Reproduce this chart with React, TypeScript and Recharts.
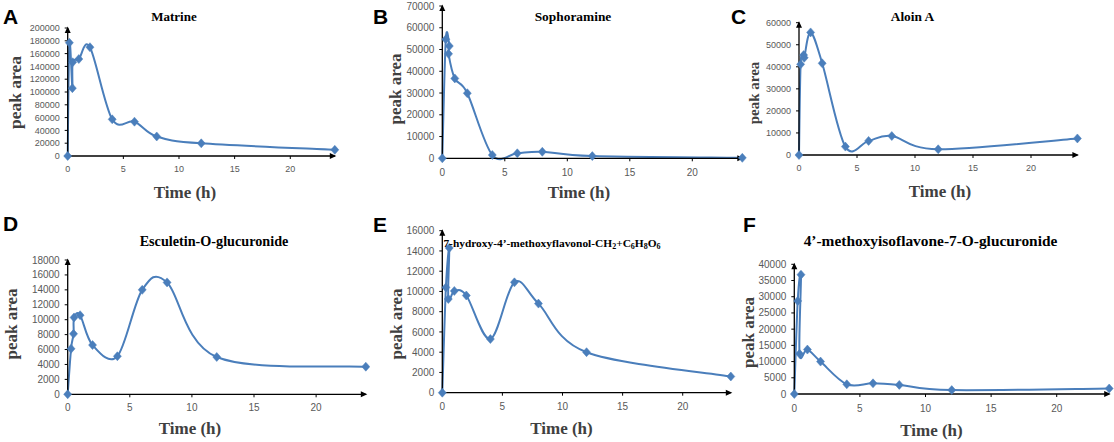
import React from 'react';
import { LineChart, Line, XAxis, YAxis } from 'recharts';

// ---- data ----
const panelLetters = ['A', 'B', 'C', 'D', 'E', 'F'];
const panelTitles = [
  'Matrine',
  'Sophoramine',
  'Aloin A',
  'Esculetin-O-glucuronide',
  '7-hydroxy-4’-methoxyflavonol-CH2+C6H8O6',
  '4’-methoxyisoflavone-7-O-glucuronide',
];
const xTickValues = [0, 5, 10, 15, 20];
const xAxisLabel = 'Time (h)';
const yAxisLabel = 'peak area';

const timesA = [0, 0.15, 0.42, 0.45, 1, 2, 4, 6, 8, 12, 24];
const valuesA = [0, 177000, 106000, 146500, 151500, 170000, 57300, 53600, 30500, 19800, 9600];
const ticksA = [0, 20000, 40000, 60000, 80000, 100000, 120000, 140000, 160000, 180000, 200000];

const timesB = [0, 0.28, 0.56, 0.5, 1, 2, 4, 6, 8, 12, 24];
const valuesB = [0, 54700, 51600, 48000, 36700, 29900, 1500, 2300, 3000, 1000, 200];
const ticksB = [0, 10000, 20000, 30000, 40000, 50000, 60000, 70000];

const timesC = [0, 0.14, 0.4, 0.45, 1, 2, 4, 6, 8, 12, 24];
const valuesC = [0, 41100, 45300, 44100, 55600, 41600, 3800, 6400, 8600, 2600, 7500];
const ticksC = [0, 10000, 20000, 30000, 40000, 50000, 60000];

const timesD = [0, 0.27, 0.47, 0.51, 1, 2, 4, 6, 8, 12, 24];
const valuesD = [0, 6100, 8100, 10300, 10600, 6600, 5100, 14000, 15000, 5000, 3700];
const ticksD = [0, 2000, 4000, 6000, 8000, 10000, 12000, 14000, 16000, 18000];

const timesE = [0, 0.3, 0.58, 0.5, 1, 2, 4, 6, 8, 12, 24];
const valuesE = [0, 10400, 14300, 9250, 10050, 9600, 5300, 10900, 8800, 4000, 1600];
const ticksE = [0, 2000, 4000, 6000, 8000, 10000, 12000, 14000, 16000];

const timesF = [0, 0.26, 0.51, 0.4, 1, 2, 4, 6, 8, 12, 24];
const valuesF = [0, 28700, 36800, 12400, 13700, 10000, 3000, 3300, 2800, 1200, 1700];
const ticksF = [0, 5000, 10000, 15000, 20000, 25000, 30000, 35000, 40000];

// ---- layout (positions / styles) ----
const LINE_COLOR = '#4a7ebb';
const Y_W = 50;
const X_H = 30;

type Cfg = {
  times: number[];
  values: number[];
  ticks: number[];
  bx: number; by: number; bw: number; bh: number;
  x0: number; x1: number; yTop: number; y0: number;
  tickFont: number; xtm: number;
};

const panels: Cfg[] = [
  { times: timesA, values: valuesA, ticks: ticksA, bx: 0, by: 0, bw: 370, bh: 215, x0: 67.7, x1: 334.8, yTop: 28, y0: 156, tickFont: 9, xtm: 6.5 },
  { times: timesB, values: valuesB, ticks: ticksB, bx: 370, by: 0, bw: 380, bh: 215, x0: 442.3, x1: 742.3, yTop: 6, y0: 158.3, tickFont: 10, xtm: 7.5 },
  { times: timesC, values: valuesC, ticks: ticksC, bx: 740, by: 0, bw: 374, bh: 215, x0: 799, x1: 1077.4, yTop: 22.7, y0: 155, tickFont: 9, xtm: 6.5 },
  { times: timesD, values: valuesD, ticks: ticksD, bx: 0, by: 215, bw: 370, bh: 227, x0: 67.7, x1: 365.8, yTop: 260, y0: 394.3, tickFont: 10, xtm: 7 },
  { times: timesE, values: valuesE, ticks: ticksE, bx: 370, by: 215, bw: 370, bh: 227, x0: 442.3, x1: 730.8, yTop: 230.7, y0: 392.7, tickFont: 10, xtm: 7.5 },
  { times: timesF, values: valuesF, ticks: ticksF, bx: 740, by: 215, bw: 374, bh: 227, x0: 794.3, x1: 1109.2, yTop: 264.3, y0: 394, tickFont: 10, xtm: 8 },
];

// text positions
const letterPos = [
  { x: 3, y: 24 }, { x: 373, y: 24 }, { x: 731, y: 23.5 },
  { x: 3, y: 231 }, { x: 373, y: 232 }, { x: 743, y: 232 },
];
const titlePos = [
  { x: 174, y: 16, s: 13 }, { x: 573, y: 16, s: 13.4 }, { x: 912.5, y: 16.5, s: 13.4 },
  { x: 214, y: 240.5, s: 14.2 }, { x: 552, y: 242.5, s: 11.4 }, { x: 930.5, y: 240, s: 15.4 },
];
const timePos = [
  { x: 185, y: 192 }, { x: 579, y: 192 }, { x: 940, y: 191.5 },
  { x: 190, y: 428 }, { x: 561.5, y: 428 }, { x: 931.5, y: 430 },
];
const peakPos = [
  { x: 15, y: 92.5, s: 17.5 }, { x: 395, y: 89, s: 17 }, { x: 754, y: 93, s: 15 },
  { x: 11.5, y: 324, s: 17 }, { x: 396.5, y: 324, s: 17 }, { x: 748.5, y: 332.5, s: 17 },
];

// Excel-like smoothed line (Catmull-Rom as cubic Bezier)
function excelSmooth(context: any) {
  let pts: number[][] = [];
  return {
    areaStart() {},
    areaEnd() {},
    lineStart() { pts = []; },
    point(x: number, y: number) { pts.push([+x, +y]); },
    lineEnd() {
      const n = pts.length;
      if (!n) return;
      context.moveTo(pts[0][0], pts[0][1]);
      const k = 1 / 6;
      for (let i = 0; i < n - 1; i++) {
        const p0 = pts[i > 0 ? i - 1 : i];
        const p1 = pts[i];
        const p2 = pts[i + 1];
        const p3 = pts[i + 2 < n ? i + 2 : i + 1];
        context.bezierCurveTo(
          p1[0] + (p2[0] - p0[0]) * k,
          p1[1] + (p2[1] - p0[1]) * k,
          p2[0] - (p3[0] - p1[0]) * k,
          p2[1] - (p3[1] - p1[1]) * k,
          p2[0],
          p2[1]
        );
      }
    },
  };
}

const renderDiamond = (props: any) => {
  const { cx, cy, index } = props;
  if (cx == null || cy == null) return <g key={`d${index}`} />;
  return (
    <path
      key={`d${index}`}
      d={`M${cx},${cy - 4.5}L${cx + 4},${cy}L${cx},${cy + 4.5}L${cx - 4},${cy}Z`}
      fill={LINE_COLOR}
      stroke={LINE_COLOR}
      strokeWidth={0.5}
    />
  );
};

// arrow heads at the axis ends, anchored to the axis viewBox
const XArrow = (props: any) => {
  const vb = props.viewBox || {};
  if (vb.x == null) return null;
  const ex = vb.x + vb.width + 1.5;
  const ey = vb.y;
  return <path d={`M${ex},${ey} L${ex - 6.5},${ey - 3} L${ex - 6.5},${ey + 3} Z`} fill="#000" />;
};
const YArrow = (props: any) => {
  const vb = props.viewBox || {};
  if (vb.x == null) return null;
  const ex = vb.x + vb.width;
  const ey = vb.y - 1.5;
  return <path d={`M${ex},${ey} L${ex - 3},${ey + 6.5} L${ex + 3},${ey + 6.5} Z`} fill="#000" />;
};

function Panel({ cfg }: { cfg: Cfg }) {
  const data = cfg.times.map((t, i) => ({ t, v: cfg.values[i] }));
  const margin = {
    left: cfg.x0 - cfg.bx - Y_W,
    right: cfg.bx + cfg.bw - cfg.x1,
    top: cfg.yTop - cfg.by,
    bottom: cfg.by + cfg.bh - cfg.y0 - X_H,
  };
  const yMax = cfg.ticks[cfg.ticks.length - 1];
  const tickStyle = { fill: '#595959', fontSize: cfg.tickFont, fontFamily: 'Liberation Sans, Arial, sans-serif' };
  return (
    <div style={{ position: 'absolute', left: cfg.bx, top: cfg.by }}>
      <LineChart width={cfg.bw} height={cfg.bh} data={data} margin={margin} style={{ overflow: 'visible' }}>
        <XAxis
          type="number"
          dataKey="t"
          domain={[0, 24]}
          ticks={xTickValues}
          height={X_H}
          tickSize={3}
          tickMargin={cfg.xtm}
          tick={tickStyle}
          axisLine={{ stroke: '#000', strokeWidth: 1.3 }}
          tickLine={{ stroke: '#000', strokeWidth: 1 }}
          interval={0}
          label={{ content: XArrow }}
        />
        <YAxis
          type="number"
          domain={[0, yMax]}
          ticks={cfg.ticks}
          width={Y_W}
          tickSize={3}
          tickMargin={5}
          tick={tickStyle}
          axisLine={{ stroke: '#000', strokeWidth: 1.3 }}
          tickLine={{ stroke: '#000', strokeWidth: 1 }}
          interval={0}
          label={{ content: YArrow }}
        />
        <Line
          dataKey="v"
          type={excelSmooth as any}
          stroke={LINE_COLOR}
          strokeWidth={2}
          dot={renderDiamond}
          activeDot={false}
          isAnimationActive={false}
        />
      </LineChart>
    </div>
  );
}

function Title({ i }: { i: number }) {
  const p = titlePos[i];
  const sub = Math.round(p.s * 0.7 * 10) / 10;
  const common = {
    x: p.x,
    y: p.y,
    textAnchor: 'middle' as const,
    dominantBaseline: 'central' as const,
    fontFamily: 'Liberation Serif, Times New Roman, serif',
    fontWeight: 700,
    fontSize: p.s,
    fill: '#000',
  };
  if (i === 4) {
    return (
      <text {...common}>
        7-hydroxy-4’-methoxyflavonol-CH
        <tspan fontSize={sub} dy={3}>2</tspan>
        <tspan dy={-3}>+C</tspan>
        <tspan fontSize={sub} dy={3}>6</tspan>
        <tspan dy={-3}>H</tspan>
        <tspan fontSize={sub} dy={3}>8</tspan>
        <tspan dy={-3}>O</tspan>
        <tspan fontSize={sub} dy={3}>6</tspan>
      </text>
    );
  }
  return <text {...common}>{panelTitles[i]}</text>;
}

export default function App() {
  return (
    <div style={{ position: 'absolute', left: 0, top: 0, width: 1114, height: 442, background: '#fff', overflow: 'hidden' }}>
      {panels.map((cfg, i) => (
        <Panel key={i} cfg={cfg} />
      ))}
      <svg width={1114} height={442} style={{ position: 'absolute', left: 0, top: 0, pointerEvents: 'none' }}>
        {panelLetters.map((l, i) => (
          <text
            key={`l${i}`}
            x={letterPos[i].x}
            y={letterPos[i].y}
            fontFamily="Liberation Sans, Arial, sans-serif"
            fontWeight={700}
            fontSize={21}
            fill="#000"
          >
            {l}
          </text>
        ))}
        {panelTitles.map((_, i) => (
          <Title key={`t${i}`} i={i} />
        ))}
        {timePos.map((p, i) => (
          <text
            key={`x${i}`}
            x={p.x}
            y={p.y}
            textAnchor="middle"
            dominantBaseline="central"
            fontFamily="Liberation Serif, Times New Roman, serif"
            fontWeight={700}
            fontSize={17}
            fill="#404040"
          >
            {xAxisLabel}
          </text>
        ))}
        {peakPos.map((p, i) => (
          <text
            key={`y${i}`}
            x={p.x}
            y={p.y}
            textAnchor="middle"
            dominantBaseline="central"
            transform={`rotate(-90 ${p.x} ${p.y})`}
            fontFamily="Liberation Serif, Times New Roman, serif"
            fontWeight={700}
            fontSize={p.s}
            fill="#404040"
          >
            {yAxisLabel}
          </text>
        ))}
      </svg>
    </div>
  );
}
